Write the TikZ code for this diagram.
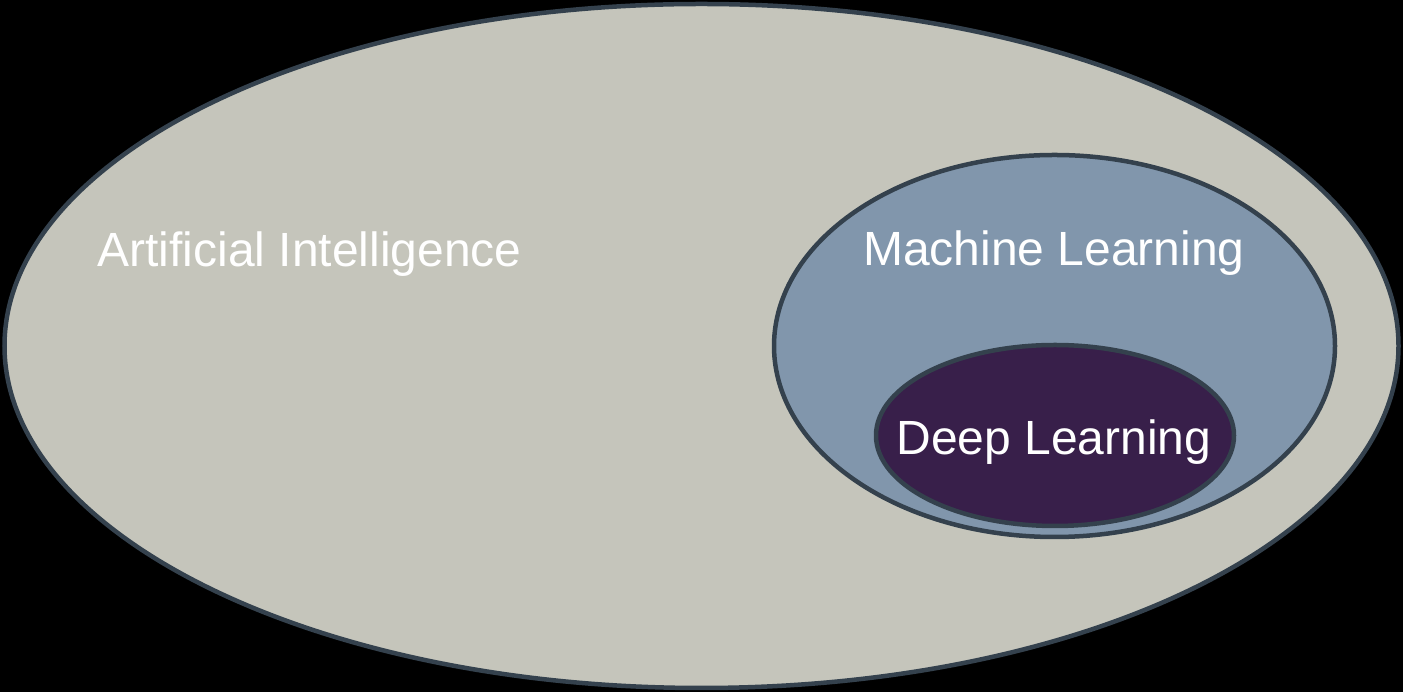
\documentclass[tikz,border=0pt]{standalone}
\usepackage{fontspec}
\setmainfont{Liberation Sans}
\usetikzlibrary{shapes.geometric}
\definecolor{bgblack}{HTML}{000000}
\definecolor{aifill}{HTML}{C5C5BB}
\definecolor{mlfill}{HTML}{8196AC}
\definecolor{dlfill}{HTML}{381F4A}
\definecolor{edge}{HTML}{34414D}
\tikzset{
  setbox/.style={ellipse, draw=edge, line width=4.5pt, inner sep=0pt, outer sep=0pt},
  label/.style={text=white, font=\fontsize{48}{58}\selectfont, anchor=base, inner sep=0pt}
}
\begin{document}
\begin{tikzpicture}[x=1pt,y=1pt]
\fill[bgblack] (0,0) rectangle (1403,692);
\useasboundingbox (0,0) rectangle (1403,692);
\node[setbox, fill=aifill, minimum width=1394pt, minimum height=684pt] (ai) at (701.5,346) {};
\node[setbox, fill=mlfill, minimum width=561pt, minimum height=382pt] (ml) at (1054.5,346) {};
\node[setbox, fill=dlfill, minimum width=358pt, minimum height=181pt] (dl) at (1055,256.5) {};
\node[label] (ailabel) at (309.5,425) {Artificial Intelligence};
\node[label] (mllabel) at (1054,426) {Machine Learning};
\node[label] (dllabel) at (1054,237) {Deep Learning};
\end{tikzpicture}
\end{document}
